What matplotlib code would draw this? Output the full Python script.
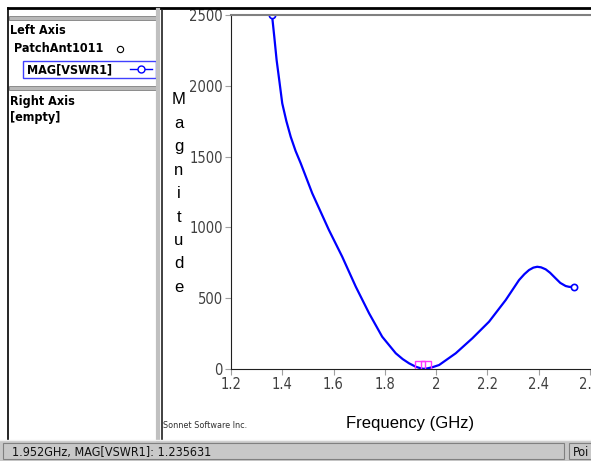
import matplotlib
matplotlib.use('Agg')
import matplotlib.pyplot as plt
from matplotlib.patches import Rectangle
from matplotlib.lines import Line2D

W, H = 591, 461
plt.rcParams['font.family'] = ['Liberation Sans', 'DejaVu Sans']
NARROW = dict(family='DejaVu Sans', stretch='condensed')

# values
freq = [1.36, 1.369, 1.378, 1.389, 1.40, 1.416, 1.433, 1.452, 1.472, 1.517,
        1.582, 1.634, 1.687, 1.739, 1.790, 1.843, 1.87, 1.895, 1.921, 1.94,
        1.952, 1.965, 1.985, 2.012, 2.077, 2.142, 2.207, 2.272, 2.324, 2.345,
        2.363, 2.38, 2.395, 2.41, 2.428, 2.445, 2.467, 2.485, 2.506, 2.52, 2.539]
mag = [2500, 2345, 2182, 2030, 1876, 1751, 1640, 1540, 1453, 1241,
       982, 793, 581, 393, 228, 111, 70, 40, 16, 5,
       1.2, 4, 12, 28, 111, 217, 334, 487, 628, 670,
       699, 716, 722, 718, 704, 680, 640, 608, 586, 580, 581]
marker_freq = [1.938, 1.961]
marker_mag = [20, 20]
xticks = [1.2, 1.4, 1.6, 1.8, 2.0, 2.2, 2.4, 2.6]
xticklabels = ['1.2', '1.4', '1.6', '1.8', '2', '2.2', '2.4', '2.6']
yticks = [0, 500, 1000, 1500, 2000, 2500]


def fx(x):
    return x / W


def fy(y):
    return 1 - y / H


fig = plt.figure(figsize=(W / 100, H / 100), dpi=100)

# plot area (runs past the right edge like the screenshot)
x0, x1, ytop, ybot = 231, 641, 15, 369
ax = fig.add_axes([fx(x0), fy(ybot), (x1 - x0) / W, (ybot - ytop) / H])
ax.plot(freq, mag, color='#0000ff', lw=1.6, marker='o', markevery=[0, -1],
        mfc='white', mec='#0000ff', ms=4.5, mew=1.2)
ax.plot(marker_freq, marker_mag, ls='none', marker='s', ms=6.5,
        mfc='none', mec='#ff33ff', mew=1.0)
ax.set_xlim(1.2, 2.8)
ax.set_ylim(0, 2500)
ax.set_xticks(xticks)
ax.set_xticklabels(xticklabels)
ax.set_yticks(yticks)
ax.tick_params(direction='out', length=4, width=0.8, color='#a0a0a0',
               labelcolor='#404040', labelsize=10.5, pad=2)
for lab in ax.get_xticklabels() + ax.get_yticklabels():
    lab.set_family('DejaVu Sans')
    lab.set_stretch('condensed')
ax.spines['top'].set_color('#808080')
ax.spines['top'].set_linewidth(1.5)
ax.spines['right'].set_visible(False)
ax.spines['left'].set_color('#202020')
ax.spines['bottom'].set_color('#202020')

# axis labels
fig.text(fx(410), fy(423), 'Frequency (GHz)', fontsize=12, ha='center', va='center')
for i, ch in enumerate('Magnitude'):
    fig.text(fx(179), fy(100 + i * 23.4), ch, fontsize=12, ha='center', va='center')
fig.text(fx(163), fy(425), 'Sonnet Software Inc.', fontsize=6.5, ha='left',
         va='center', color='#303030', **NARROW)

# window frame lines
fig.add_artist(Line2D([fx(8), 1], [fy(8), fy(8)], color='black', lw=2))
fig.add_artist(Line2D([fx(158), fx(158)], [fy(10), fy(440)], color='#c0c0c0', lw=3))
fig.add_artist(Line2D([fx(162), fx(162)], [fy(10), fy(440)], color='#202020', lw=1.2))
fig.add_artist(Line2D([fx(8), fx(8)], [fy(8), fy(440)], color='black', lw=1.2))
for yy in (17, 87):
    fig.add_artist(Rectangle((fx(9), fy(yy + 3)), (157 - 9) / W, 4 / H,
                             facecolor='#b8b8b8', edgecolor='#808080', lw=0.6))

# left panel legend
txt = dict(fontsize=9, weight='bold', va='center', **NARROW)
fig.text(fx(10), fy(31), 'Left Axis', **txt)
fig.text(fx(14), fy(49), 'PatchAnt1011', **txt)
fig.add_artist(Line2D([fx(120)], [fy(49)], marker='o', ms=4.5, mfc='white', mec='black', mew=0.8))
fig.add_artist(Rectangle((fx(23), fy(78)), (156 - 23) / W, 17 / H,
                         facecolor='white', edgecolor='#4040ff', lw=1.0))
fig.text(fx(27), fy(69.5), 'MAG[VSWR1]', **txt)
fig.add_artist(Line2D([fx(130), fx(152)], [fy(69), fy(69)], color='#0000ff', lw=1.0))
fig.add_artist(Line2D([fx(141)], [fy(69)], marker='o', ms=5, mfc='white', mec='#0000ff', mew=1.0))
fig.text(fx(10), fy(101), 'Right Axis', **txt)
fig.text(fx(10), fy(117), '[empty]', **txt)

# status bar
fig.add_artist(Rectangle((0, 0), 1, (H - 440) / H, facecolor='#c8c8c8', edgecolor='none'))
fig.add_artist(Line2D([0, 1], [fy(440), fy(440)], color='#f0f0f0', lw=1))
fig.add_artist(Rectangle((fx(3), fy(459)), (564 - 3) / W, 16 / H,
                         facecolor='#c8c8c8', edgecolor='#808080', lw=0.8))
fig.add_artist(Rectangle((fx(569), fy(459)), 40 / W, 16 / H,
                         facecolor='#c8c8c8', edgecolor='#808080', lw=0.8))
fig.text(fx(12), fy(452), '1.952GHz, MAG[VSWR1]: 1.235631', fontsize=9,
         va='center', color='#101010', **NARROW)
fig.text(fx(573), fy(452), 'Poi', fontsize=9, va='center', color='#101010', **NARROW)

fig.savefig('out.png', dpi=100)
